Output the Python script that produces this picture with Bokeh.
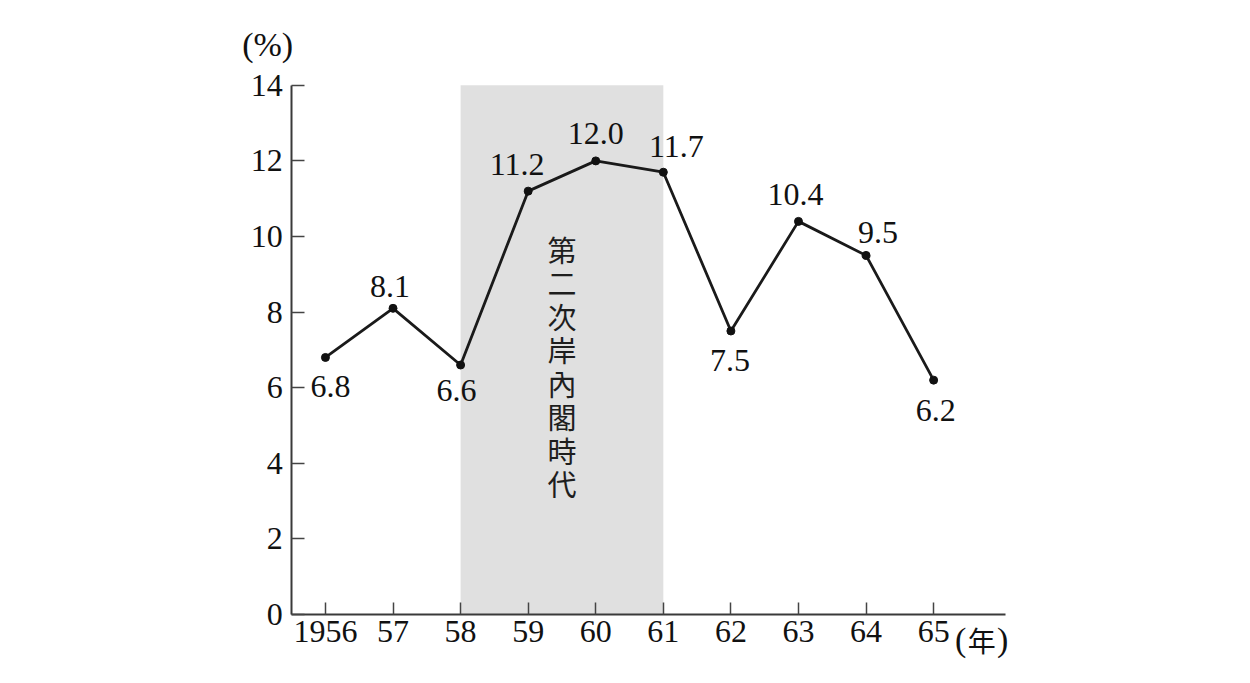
from bokeh.plotting import figure
from bokeh.models import ColumnDataSource, FixedTicker, Label, BoxAnnotation, LabelSet, Range1d
from bokeh.embed import file_html
from bokeh.resources import INLINE

# ---- data ----
years = ["1956", "57", "58", "59", "60", "61", "62", "63", "64", "65"]
rates = [6.8, 8.1, 6.6, 11.2, 12.0, 11.7, 7.5, 10.4, 9.5, 6.2]
rate_labels = ["6.8", "8.1", "6.6", "11.2", "12.0", "11.7", "7.5", "10.4", "9.5", "6.2"]
y_ticks = [0, 2, 4, 6, 8, 10, 12, 14]
era_start, era_end = "58", "61"
era_text = "第二次岸內閣時代"
y_unit = "(%)"
x_unit = "年"

# label offsets (style, screen px; up positive)
label_dx = [5, -3, -4, -11, 0, 13, -1, -3, 12, 2]
label_dy = [-29, 22, -25, 27, 27, 26, -30, 27, 23, -30]

xs = list(range(len(years)))

SERIF = "Liberation Serif"
CJK = "Noto Sans CJK JP"

# layout: frame spans canvas px 220..1020 (x) and 20..665 (y)
X_MIN, X_MAX = -0.5, 10.06      # axis extent
p = figure(width=1250, height=683, output_backend="svg", toolbar_location=None,
           x_range=Range1d(-1.553, 10.2855), y_range=Range1d(-1.349, 15.714),
           min_border_left=220, min_border_right=230, min_border_top=20, min_border_bottom=18)
p.outline_line_color = None
p.xgrid.visible = False
p.ygrid.visible = False
p.background_fill_color = "white"
p.border_fill_color = "white"

# shaded era
p.add_layout(BoxAnnotation(left=years.index(era_start), right=years.index(era_end),
                           bottom=0, top=14, fill_color="#e0e0e0", fill_alpha=1.0,
                           line_color=None, level="underlay"))

src = ColumnDataSource(dict(x=xs, y=rates, lab=rate_labels, dx=label_dx, dy=label_dy))
p.line("x", "y", source=src, line_color="#1a1a1a", line_width=2.8)
p.scatter("x", "y", source=src, size=8, fill_color="#111111", line_color="#111111")

p.add_layout(LabelSet(x="x", y="y", text="lab", source=src, x_offset="dx", y_offset="dy",
                      text_align="center", text_baseline="middle",
                      text_font=SERIF, text_font_size="32px", text_color="#111111"))

# vertical era text, one character per label
era_x = (years.index(era_start) + years.index(era_end)) / 2
for i, ch in enumerate(era_text):
    p.add_layout(Label(x=era_x, y=10.1, y_offset=-16 - 33.5 * i, text=ch,
                       text_align="center", text_baseline="middle",
                       text_font=CJK, text_font_size="29px", text_color="#1e1e1e"))

# axes styling
for ax in (p.xaxis[0], p.yaxis[0]):
    ax.axis_line_color = "#3a3a3a"
    ax.axis_line_width = 2
    ax.major_tick_line_color = "#444444"
    ax.major_tick_line_width = 1.5
    ax.major_tick_out = 0
    ax.minor_tick_in = 0
    ax.minor_tick_out = 0
    ax.major_label_text_font = SERIF
    ax.major_label_text_font_size = "32px"
    ax.major_label_text_color = "#111111"

p.xaxis[0].ticker = FixedTicker(ticks=xs)
p.xaxis[0].major_label_overrides = {i: y for i, y in enumerate(years)}
p.xaxis[0].major_tick_in = 12
p.xaxis[0].major_label_standoff = 6
p.xaxis[0].fixed_location = 0
p.xaxis[0].bounds = (X_MIN, X_MAX)

p.yaxis[0].ticker = FixedTicker(ticks=y_ticks)
p.yaxis[0].major_tick_in = 13
p.yaxis[0].major_label_standoff = 9
p.yaxis[0].fixed_location = X_MIN
p.yaxis[0].bounds = (0, 14)

# unit labels
p.add_layout(Label(x=X_MIN, y=14, x_offset=-24, y_offset=41, text=y_unit,
                   text_align="center", text_baseline="middle",
                   text_font=SERIF, text_font_size="34px", text_color="#111111"))
last = len(years) - 1
for txt, dx, font, size in (("(", 27, SERIF, "34px"), (x_unit, 48, CJK, "28px"), (")", 69, SERIF, "34px")):
    p.add_layout(Label(x=last, y=0, x_offset=dx, y_offset=-25, text=txt,
                       text_align="center", text_baseline="middle",
                       text_font=font, text_font_size=size, text_color="#111111"))

open("out.html", "w").write(file_html(p, INLINE))
